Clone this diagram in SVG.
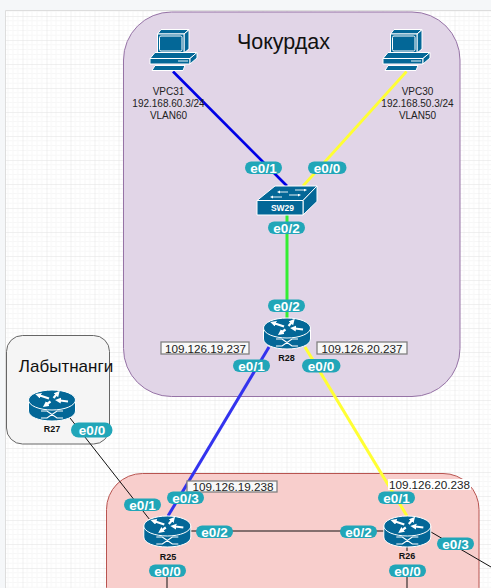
<svg xmlns="http://www.w3.org/2000/svg" width="491" height="588" viewBox="0 0 491 588">
<style>
.lbl{font:bold 13.500px "Liberation Sans",Arial,sans-serif;fill:#fff;text-anchor:middle}
.pill{fill:#21a6b8}
.cap{font:bold 9px "Liberation Sans",Arial,sans-serif;fill:#111;text-anchor:middle}
.info{font:10px "Liberation Sans",Arial,sans-serif;fill:#222;text-anchor:middle}
.ip{font:11.700px "Liberation Sans",Arial,sans-serif;fill:#222;text-anchor:middle}
.ipbox{fill:#f8f8f8;stroke:#808080;stroke-width:1.300}
.title{font-family:"Liberation Sans",Arial,sans-serif;fill:#111;text-anchor:middle}
.link{fill:none}
.body{fill:#036797;stroke:#fff;stroke-width:1;stroke-linejoin:round}
.wl{fill:none;stroke:#fff;stroke-width:1.200}
.ar{fill:none;stroke:#fff;stroke-width:2.200;marker-end:url(#h)}
.ar2{fill:none;stroke:#fff;stroke-width:0.900;marker-end:url(#h2)}
</style>
<defs>
<marker id="h" markerUnits="userSpaceOnUse" markerWidth="7" markerHeight="7" refX="1" refY="3" orient="auto"><path d="M0 0L6 3L0 6Z" fill="#fff"/></marker>
<marker id="h2" markerUnits="userSpaceOnUse" markerWidth="4" markerHeight="4" refX="1" refY="1.500" orient="auto"><path d="M0 0L3 1.500L0 3Z" fill="#fff"/></marker>
<pattern id="g" width="24" height="24" patternUnits="userSpaceOnUse" x="22.500" y="16">
<path d="M4.800 0V24M9.600 0V24M14.400 0V24M19.200 0V24M0 4.800H24M0 9.600H24M0 14.400H24M0 19.200H24" stroke="#f7f7f7" stroke-width="1" fill="none"/>
<path d="M0 0V24M0 0H24" stroke="#e2e2e2" stroke-width="1" fill="none"/>
</pattern>
<g id="router">
<path class="body" d="M-23.500 -2V9C-23.500 15 -13 19 0 19S23.500 15 23.500 9V-2Z"/>
<ellipse class="body" cx="0" cy="-2" rx="23.500" ry="10"/>
<path class="wl" d="M-11 9H-5L5 16H11M-11 16H-5L5 9H11"/>
<path class="ar" d="M-3 -3.500L-12 -6.500"/>
<path class="ar" d="M1.500 -4L4.500 -7.500"/>
<path class="ar" d="M16 -0.500L8 -1.500"/>
<path class="ar" d="M-1.500 -0.500L-5 2"/>
</g>
<g id="pc">
<path class="body" d="M7.500 5L11 0.500H39L34 5ZM34 5L39 0.500V20L34 24Z"/>
<rect class="body" x="7.500" y="5" width="26.500" height="19"/>
<rect x="9.500" y="7" width="22.500" height="15" rx="1.500" fill="#036797" stroke="#fff"/>
<path class="body" d="M5 23.500H47L40 29.500V35H0V29.500Z"/>
<path class="body" d="M40 29.500L47 23.500V29L40 35Z"/>
<path d="M0 29.500H40" stroke="#fff" fill="none"/>
<path class="body" d="M5 36.500H35L33 41.500H2Z"/>
<path d="M28 32H38" stroke="#9fc7da" stroke-width="1.500"/>
</g>
</defs>
<rect width="491" height="588" fill="#fff"/>
<rect width="491" height="588" fill="url(#g)"/>
<path d="M0 0H491V10.500H5.500V588H0Z" fill="#f5f7f9"/>
<path d="M5.500 588V10.500H491" fill="none" stroke="#ddd"/>
<g id="area-chokurdakh"><rect x="123.500" y="12" width="336.500" height="384.500" rx="48" fill="#e1d5e7" stroke="#9673a6"/></g>
<g id="area-labytnangi"><rect x="6.500" y="335.500" width="103" height="108.500" rx="16" fill="#f5f5f5" stroke="#666"/></g>
<g id="area-south"><rect x="106.500" y="473.500" width="372.500" height="150" rx="36" fill="#f8cecc" stroke="#b85450"/></g>
<g id="connectors">
<path class="link" d="M173 71.500L287 186" stroke="#0000e6" stroke-width="2.700"/>
<path class="link" d="M406.500 71.500L303 186" stroke="#ffff33" stroke-width="2.700"/>
<path class="link" d="M287 214V320" stroke="#33ee33" stroke-width="3"/>
<path class="link" d="M269 347L168 516" stroke="#3333ee" stroke-width="3"/>
<path class="link" d="M305 347L407 516" stroke="#ffff33" stroke-width="3"/>
<path class="link" d="M70 418L150 520" stroke="#111" stroke-width="1"/>
<path class="link" d="M190 531H384" stroke="#111" stroke-width="1"/>
<path class="link" d="M431 532L491 567" stroke="#111" stroke-width="1"/>
<path class="link" d="M167 577V588" stroke="#111" stroke-width="1"/>
<path class="link" d="M407 547V551M407 577V588" stroke="#111" stroke-width="1"/>
</g>
<text class="title" x="283.500" y="49" font-size="21.500">Чокурдах</text>
<text class="title" x="66" y="371.500" font-size="17">Лабытнанги</text>
<g id="VPC31"><use href="#pc" x="150" y="29"/>
<text class="info"><tspan x="168.500" y="95">VPC31</tspan><tspan x="168.500" y="107">192.168.60.3/24</tspan><tspan x="168.500" y="119">VLAN60</tspan></text></g>
<g id="VPC30"><use href="#pc" x="383" y="29"/>
<text class="info"><tspan x="417.500" y="95">VPC30</tspan><tspan x="417.500" y="107">192.168.50.3/24</tspan><tspan x="417.500" y="119">VLAN50</tspan></text></g>
<g id="SW29">
<path class="body" d="M257 200.500L275 186H317L303 200.500Z"/>
<path class="body" d="M303 200.500L317 186V201.500L303 215Z"/>
<rect class="body" x="257" y="200.500" width="46" height="14.500"/>
<path class="ar2" d="M288 192H279"/><path class="ar2" d="M295 190H305"/><path class="ar2" d="M282 197H272"/><path class="ar2" d="M289 195H299"/>
<text x="282.500" y="211" font-family="Liberation Sans,Arial,sans-serif" font-weight="bold" font-size="8.500" fill="#fff" text-anchor="middle">SW29</text>
</g>
<g id="R28"><use href="#router" x="287" y="330"/><text class="cap" x="286.500" y="361">R28</text></g>
<g id="R27"><use href="#router" x="52" y="402"/><text class="cap" x="52" y="432">R27</text></g>
<g id="R25"><use href="#router" x="167.300" y="528"/><text class="cap" x="168" y="560">R25</text></g>
<g id="R26"><use href="#router" x="407.300" y="528"/><text class="cap" x="407" y="559">R26</text></g>
<g id="ip-labels">
<rect class="ipbox" x="161" y="342" width="88" height="12"/><text class="ip" x="205.500" y="352.500">109.126.19.237</text>
<rect class="ipbox" x="317" y="342" width="90" height="12"/><text class="ip" x="362" y="352.500">109.126.20.237</text>
<rect class="ipbox" x="187" y="481" width="90" height="11"/><text class="ip" x="233" y="491">109.126.19.238</text>
<rect x="388" y="479" width="83" height="11" fill="#fff"/><text class="ip" x="429.500" y="488.500">109.126.20.238</text>
</g>
<g id="port-labels">
<rect class="pill" x="245" y="161.500" width="37" height="12.500" rx="6.200"/><text class="lbl" x="263.500" y="172.500">e0/1</text>
<rect class="pill" x="308" y="161.500" width="38.500" height="12.500" rx="6.200"/><text class="lbl" x="327" y="172.500">e0/0</text>
<rect class="pill" x="268" y="221.500" width="37" height="12.500" rx="6.200"/><text class="lbl" x="286.500" y="232.500">e0/2</text>
<rect class="pill" x="268" y="299.500" width="37" height="12.500" rx="6.200"/><text class="lbl" x="286.500" y="310.500">e0/2</text>
<rect class="pill" x="233" y="359.500" width="37" height="12.500" rx="6.200"/><text class="lbl" x="251.500" y="370.500">e0/1</text>
<rect class="pill" x="302" y="359" width="38.500" height="13.500" rx="6.700"/><text class="lbl" x="321" y="370.500">e0/0</text>
<rect class="pill" x="71" y="422.500" width="41.500" height="15" rx="7.500"/><text class="lbl" x="92" y="434.500">e0/0</text>
<rect class="pill" x="124" y="498.500" width="37" height="12.500" rx="6.200"/><text class="lbl" x="142.500" y="509.500">e0/1</text>
<rect class="pill" x="167" y="491.500" width="37" height="12.500" rx="6.200"/><text class="lbl" x="185.500" y="502.500">e0/3</text>
<rect class="pill" x="196" y="525.500" width="37" height="12.500" rx="6.200"/><text class="lbl" x="214.500" y="536.500">e0/2</text>
<rect class="pill" x="149" y="564.500" width="37" height="12.500" rx="6.200"/><text class="lbl" x="167.500" y="575.500">e0/0</text>
<rect class="pill" x="340" y="525.500" width="37" height="12.500" rx="6.200"/><text class="lbl" x="358.500" y="536.500">e0/2</text>
<rect class="pill" x="378" y="491.500" width="37" height="12.500" rx="6.200"/><text class="lbl" x="396.500" y="502.500">e0/1</text>
<rect class="pill" x="437" y="537.500" width="37" height="12.500" rx="6.200"/><text class="lbl" x="455.500" y="548.500">e0/3</text>
<rect class="pill" x="389" y="564.500" width="37" height="12.500" rx="6.200"/><text class="lbl" x="407.500" y="575.500">e0/0</text>
</g>
</svg>
